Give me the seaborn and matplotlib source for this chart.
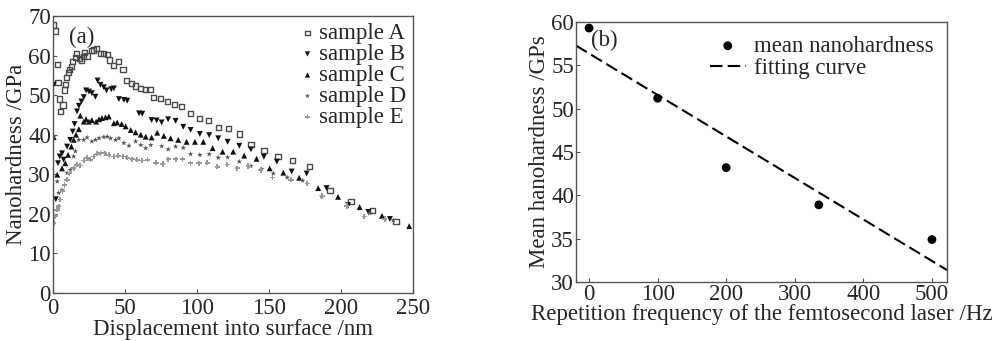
import numpy as np
import matplotlib
matplotlib.use("Agg")
import matplotlib.pyplot as plt
import pandas as pd
import seaborn as sns

# panel (a): nanohardness vs displacement
A_x = [0.5, 2, 3, 3.5, 4.7, 5.3, 7, 8, 8.6, 9.3, 11, 11.6, 12.8, 13.7, 15.6, 16.3, 18.6, 19.8, 21, 22,
       23.7, 26.7, 28.4, 30.2, 33, 35.3, 37.7, 39.5, 42.3, 45.3, 48.6, 51.2, 54.7, 57.4, 61, 64.4, 67.4, 70.1, 74.8, 79.4,
       84.2, 89.4, 95.6, 102, 108, 114.8, 121.8, 129.4, 137.5, 146.5, 156.3, 166.4, 178, 192.4, 207, 222, 238.2]
A_y = [67.7, 66.2, 57.8, 53.2, 49, 45.9, 47.5, 51.3, 52.6, 54.4, 55.7, 56.4, 57.2, 58.5, 59.5, 60.6, 59.3, 58.9, 59.7, 60.8,
       59.9, 61.2, 61.4, 61.8, 60.6, 60.6, 60.2, 58.9, 57.4, 58.5, 56.4, 53.7, 53.0, 52.3, 51.7, 51.5, 51.5, 49.4, 49.2, 48.3,
       47.7, 47.1, 45.4, 44.0, 43.5, 41.9, 41.6, 40.2, 37.6, 36.0, 34.5, 33.4, 31.9, 26.0, 23.2, 20.8, 18.0]

B_x = [0.5, 2, 3.5, 4.7, 6.3, 7.4, 9.8, 12, 13.7, 15, 16.7, 18, 19.8, 21.4, 23, 25, 27, 29.5, 31, 33,
       35.3, 37.2, 40.5, 42.3, 45.8, 49.3, 51.6, 59.8, 62, 68.5, 72, 75.5, 80, 85.2, 90.5, 95.6, 102, 108.5, 114.8, 121.3,
       129.4, 137.5, 146.5, 155.5, 165.8, 176.2, 190, 205, 219, 234]
B_y = [52.6, 23.7, 32.8, 34.5, 35.3, 33.7, 37, 38.7, 40.8, 42.7, 45.9, 47.3, 48.4, 49.5, 51.2, 50.9, 50.5, 49.6, 53.7, 52.6,
       52, 51.2, 51.5, 51.7, 49, 48.8, 48.6, 45.4, 45.3, 43.7, 43.6, 43.1, 43.9, 43.5, 42, 41.2, 40.2, 39.9, 39.1, 38.2,
       37.2, 36.3, 34.4, 33.2, 30.7, 30.2, 26.5, 22.2, 20.5, 18.7]

C_x = [0.5, 3, 6.3, 8.6, 10.5, 12.8, 14.4, 16, 18, 19, 21.4, 23, 25, 27, 30, 32, 34, 36.5, 38.8, 42.3,
       44.6, 47.7, 50.5, 54, 57.4, 61, 64.4, 68.5, 72.4, 77, 81.7, 87, 92.8, 98.6, 104.4, 110.9, 117.8, 125.2, 132.8, 141.4,
       150.5, 160, 171, 184.2, 198, 213, 228.5, 247.4]
C_y = [39.4, 29.9, 31.5, 32.8, 34.9, 37, 38.7, 40, 41.4, 44.8, 43.3, 43.9, 43.3, 43.7, 43.3, 43.9, 44.2, 44.4, 44.6, 42.9,
       43.1, 42.7, 42.1, 41.2, 40.6, 40, 39.5, 39.3, 40.5, 39.7, 39.1, 38.7, 38.2, 38.2, 38.2, 36.6, 35.7, 35.7, 34.7, 33.9,
       31.5, 30.4, 29.1, 26.5, 24.3, 21.7, 19.5, 16.9]

D_x = [0.5, 3, 4, 6.3, 9.8, 12, 14.4, 15.6, 18, 21.4, 23.7, 27, 29.5, 32, 35.3, 37.7, 40, 43.5, 45.8, 49.3,
       52.8, 57.4, 61, 64.4, 67.9, 75.5, 80, 85.2, 90.5, 95.6, 102, 108.5, 114.8, 121.3, 129.4, 137.5, 145, 153, 162.7, 173.4,
       186.6, 204.6, 220, 236.3]
D_y = [39.5, 28.2, 25.3, 26, 30.3, 31.1, 34.5, 35.8, 38.7, 38.7, 39.3, 38.3, 38.7, 39.1, 39.4, 39.5, 39.1, 38.7, 39.1, 37.9,
       37.2, 38.3, 37.4, 36.6, 37.4, 37.1, 36.3, 37, 36.7, 35.1, 34.9, 35.1, 34.2, 34.3, 33.2, 32.1, 31.3, 30.2, 29.2, 28.4,
       24.5, 22, 20.2, 18.4]

E_x = [0.5, 1.6, 2.8, 4, 5, 6.7, 8.1, 9.8, 11.4, 14.4, 16.7, 19, 21.4, 23.7, 26, 28.4, 30.7, 33, 36, 38.8,
       42.3, 45.3, 48.6, 51.6, 55, 58.6, 62, 65.6, 71.5, 76.2, 80, 85.2, 90, 95.6, 101.4, 107.2, 114, 121, 128, 135.6,
       144.4, 152.5, 165.3, 176.6, 187, 204, 216.2, 230.5]
E_y = [17.7, 19.4, 21, 21.9, 23.6, 25.7, 27.3, 28.6, 30.3, 31.5, 32.4, 32.2, 33.5, 34.1, 33.7, 34.5, 35.2, 35.3, 35.3, 34.9,
       34.5, 34.7, 34.5, 34.2, 33.8, 33.7, 33.5, 33.7, 32.9, 32.6, 33.8, 33.8, 33.8, 32.8, 32.8, 32.9, 31.9, 32.5, 31.5, 32.1,
       31.1, 29.2, 28.6, 27.7, 24.5, 22, 19.3, 18.7]

# panel (b): mean nanohardness vs repetition frequency
freq = [0, 100, 200, 335, 500]
mean_hard = [59.3, 51.2, 43.2, 38.9, 34.9]

sns.set_style("ticks")
plt.rcParams["font.family"] = ["Liberation Serif", "DejaVu Serif"]

fig = plt.figure(figsize=(10.03, 3.41), dpi=100)
ax1 = fig.add_axes([0.0528, 0.1408, 0.3589, 0.8123])
ax2 = fig.add_axes([0.5743, 0.1730, 0.3699, 0.7625])

FS = 16.5

series = [
    ("sample A", A_x, A_y, dict(marker="s", s=14, facecolor="none", edgecolor="#4a4a4a", linewidth=1.0)),
    ("sample B", B_x, B_y, dict(marker="v", s=18, color="#111111", edgecolor="none")),
    ("sample C", C_x, C_y, dict(marker="^", s=18, color="#111111", edgecolor="none")),
    ("sample D", D_x, D_y, dict(marker="*", s=18, color="#555555", edgecolor="none")),
    ("sample E", E_x, E_y, dict(marker="P", s=14, color="#9a9a9a", edgecolor="none")),
]
for name, xs, ys, kw in series:
    sns.scatterplot(x=xs, y=ys, ax=ax1, label=name, **kw)

ax1.set_xlim(0, 250)
ax1.set_ylim(0, 70)
ax1.set_xticks([0, 50, 100, 150, 200, 250])
ax1.set_yticks(range(0, 71, 10))
ax1.set_xlabel("Displacement into surface /nm", fontsize=FS, labelpad=0)
ax1.set_ylabel("Nanohardness /GPa", fontsize=FS, labelpad=1)
ax1.text(0.045, 0.96, "(a)", transform=ax1.transAxes, fontsize=FS, va="top", ha="left")
ax1.legend(loc="upper right", frameon=False, fontsize=FS, handletextpad=0.05,
           handlelength=0.9, labelspacing=0.0, borderaxespad=0.0, borderpad=0.3,
           markerscale=0.9)

# panel (b)
ax2.set_xlim(-19, 522)
ax2.set_ylim(30, 60)
sns.scatterplot(x=freq, y=mean_hard, ax=ax2, color="black", s=40, edgecolor="none",
                label="mean nanohardness")
sns.regplot(x=np.array(freq), y=np.array(mean_hard), ax=ax2, scatter=False, ci=None,
            truncate=False, color="black",
            line_kws=dict(linestyle=(0, (6, 2.5)), linewidth=1.5))
fit_line = ax2.lines[-1]
fit_line.set_label("fitting curve")
ax2.set_xlim(-19, 522)
ax2.set_ylim(30, 60)
ax2.set_xticks([0, 100, 200, 300, 400, 500])
ax2.set_yticks(range(30, 61, 5))
ax2.set_xlabel("Repetition frequency of the femtosecond laser /Hz", fontsize=FS, labelpad=-1)
ax2.set_ylabel("Mean hanohardness /GPs", fontsize=FS, labelpad=1)
ax2.text(0.04, 0.97, "(b)", transform=ax2.transAxes, fontsize=FS, va="top", ha="left")
pts = ax2.collections[0]
ax2.legend(handles=[pts, fit_line], labels=["mean nanohardness", "fitting curve"],
           loc="upper right", frameon=False, fontsize=FS, handletextpad=0.35,
           handlelength=1.55, labelspacing=0.05, borderaxespad=0.2)

for ax in (ax1, ax2):
    for sp in ax.spines.values():
        sp.set_visible(True)
        sp.set_color("#555555")
        sp.set_linewidth(1.0)
    ax.tick_params(direction="in", length=3, width=0.8, color="#555555",
                   labelsize=FS, pad=1.5)
ax1.tick_params(axis="x", pad=3.5)

fig.savefig("out.png", dpi=100)
